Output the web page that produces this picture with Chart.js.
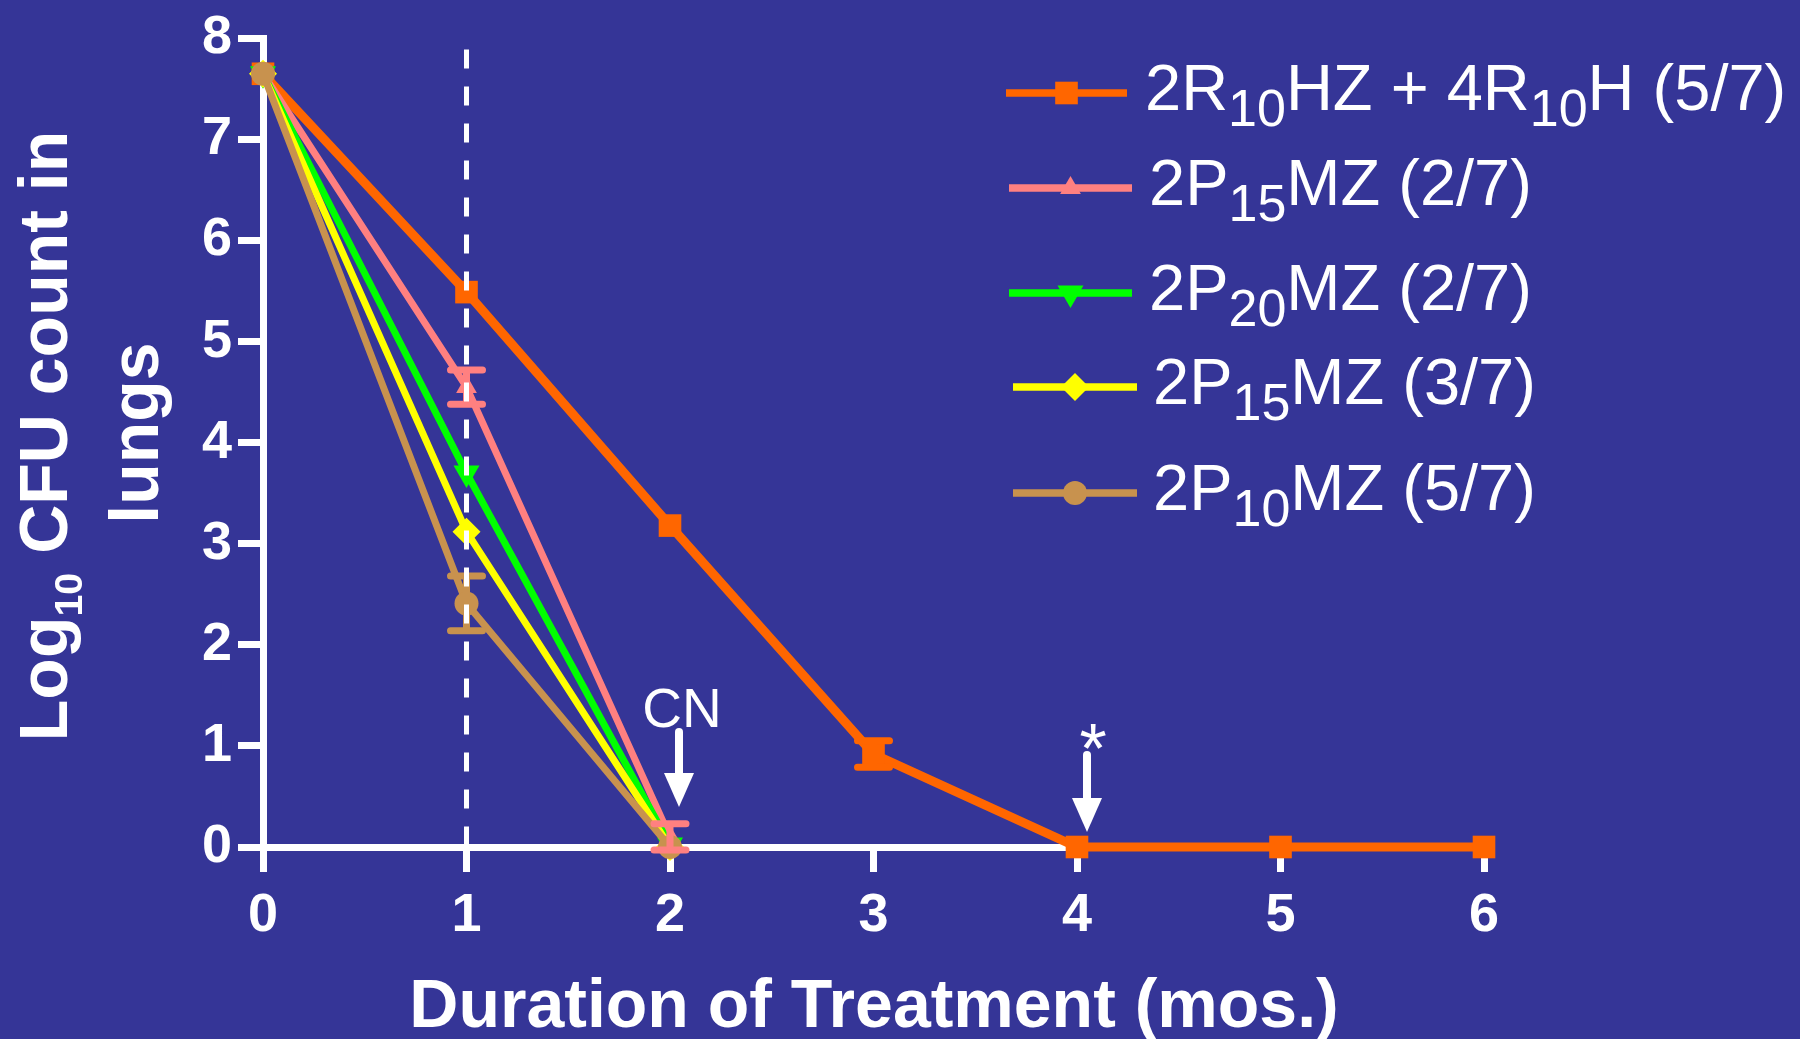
<!DOCTYPE html>
<html>
<head>
<meta charset="utf-8">
<script src="https://cdn.jsdelivr.net/npm/chart.js@4.4.1/dist/chart.umd.min.js"></script>
<style>
  html, body { margin: 0; padding: 0; background: #353597; }
  canvas { display: block; }
</style>
</head>
<body>
<canvas id="cfuChart" width="1800" height="1039"></canvas>
<script>
// months of treatment and log10 CFU ticks
let months = [0, 1, 2, 3, 4, 5, 6];
let yTicks = [0, 1, 2, 3, 4, 5, 6, 7, 8];

// regimen means (log10 CFU) and SD where visible
let rhzValues  = [7.65, 5.49, 3.18, 0.92, 0, 0, 0];
let rhzErr     = [0, 0, 0, 0.13, 0, 0, 0];
let p15aValues = [7.65, 4.55, 0.10];
let p15aErr    = [0, 0.17, 0.13];
let p20Values  = [7.65, 3.70, 0.02];
let p15bValues = [7.65, 3.12, 0];
let p10Values  = [7.65, 2.41, 0];
let p10Err     = [0, 0.27, 0];

let seriesLabels = [
  '2R_{10}HZ + 4R_{10}H (5/7)',
  '2P_{15}MZ (2/7)',
  '2P_{20}MZ (2/7)',
  '2P_{15}MZ (3/7)',
  '2P_{10}MZ (5/7)'
];
let seriesColors = ['#FF6600', '#FF8080', '#00FF00', '#FFFF00', '#C8924E'];

const FONT = '"Liberation Sans", Arial, Helvetica, sans-serif';
const WHITE = '#FFFFFF';

function series(i, values, style, radius, width, rotation) {
  return {
    label: seriesLabels[i],
    data: values.map((v, k) => ({ x: months[k], y: v })),
    borderColor: seriesColors[i],
    backgroundColor: seriesColors[i],
    pointBackgroundColor: seriesColors[i],
    pointBorderColor: seriesColors[i],
    pointBorderWidth: 0,
    pointStyle: style,
    pointRadius: radius,
    pointHoverRadius: radius,
    pointRotation: rotation || 0,
    borderWidth: width,
    tension: 0,
    clip: false,
    order: 4 - i
  };
}

// text with _{...} subscripts
function drawRich(ctx, text, x, y, size, weight, subScale, subDrop, align) {
  let segs = text.split(/(_\{[^}]*\})/).filter(s => s.length).map(p => {
    let sub = p.startsWith('_{');
    let t = sub ? p.slice(2, -1) : p;
    let fs = sub ? size * subScale : size;
    ctx.font = weight + ' ' + fs + 'px ' + FONT;
    return { t, sub, fs, w: ctx.measureText(t).width };
  });
  let total = segs.reduce((a, s) => a + s.w, 0);
  let cx = align === 'center' ? x - total / 2 : x;
  ctx.textAlign = 'left';
  ctx.textBaseline = 'alphabetic';
  segs.forEach(s => {
    ctx.font = weight + ' ' + s.fs + 'px ' + FONT;
    ctx.fillText(s.t, cx, y + (s.sub ? subDrop : 0));
    cx += s.w;
  });
}

function drawArrow(ctx, x, y0, y1) {
  ctx.save();
  ctx.strokeStyle = WHITE;
  ctx.fillStyle = WHITE;
  ctx.lineWidth = 8;
  ctx.lineCap = 'round';
  ctx.beginPath();
  ctx.moveTo(x, y0);
  ctx.lineTo(x, y1 - 30);
  ctx.stroke();
  ctx.beginPath();
  ctx.moveTo(x - 15, y1 - 34);
  ctx.lineTo(x + 15, y1 - 34);
  ctx.lineTo(x, y1);
  ctx.closePath();
  ctx.fill();
  ctx.restore();
}

const overlays = {
  id: 'overlays',
  afterDatasetsDraw(chart) {
    const ctx = chart.ctx;
    const xs = chart.scales.x, ys = chart.scales.y;

    // error bars
    [[rhzValues, rhzErr, 0], [p15aValues, p15aErr, 1], [p10Values, p10Err, 4]].forEach(([vals, errs, ci]) => {
      ctx.save();
      ctx.strokeStyle = seriesColors[ci];
      ctx.lineWidth = 7;
      ctx.lineCap = 'round';
      vals.forEach((v, k) => {
        if (!errs[k]) return;
        const px = xs.getPixelForValue(months[k]);
        const top = ys.getPixelForValue(v + errs[k]);
        const bot = ys.getPixelForValue(v - errs[k]);
        ctx.beginPath();
        ctx.moveTo(px, top); ctx.lineTo(px, bot);
        ctx.moveTo(px - 16, top); ctx.lineTo(px + 16, top);
        ctx.moveTo(px - 16, bot); ctx.lineTo(px + 16, bot);
        ctx.stroke();
      });
      ctx.restore();
    });

    // dashed line at one month
    const x1 = xs.getPixelForValue(1);
    ctx.save();
    ctx.strokeStyle = WHITE;
    ctx.lineWidth = 5;
    ctx.setLineDash([19, 18]);
    ctx.beginPath();
    ctx.moveTo(x1, chart.chartArea.top + 11);
    ctx.lineTo(x1, chart.chartArea.bottom);
    ctx.stroke();
    ctx.restore();

    // CN and * markers
    const x2 = xs.getPixelForValue(2) + 9;
    const x4 = xs.getPixelForValue(4) + 10;
    drawArrow(ctx, x2, 732, 807);
    drawArrow(ctx, x4, 755, 832);
    ctx.save();
    ctx.fillStyle = WHITE;
    ctx.textAlign = 'center';
    ctx.textBaseline = 'alphabetic';
    ctx.font = '55px ' + FONT;
    ctx.fillText('CN', x2 + 3, 727);
    ctx.font = '70px ' + FONT;
    ctx.fillText('*', x4 + 6, 773);
    ctx.restore();
  },
  afterDraw(chart) {
    const ctx = chart.ctx;
    ctx.save();
    ctx.fillStyle = WHITE;

    // x axis title
    drawRich(ctx, 'Duration of Treatment (mos.)', 874, 1027, 68, 'bold', 1, 0, 'center');

    // y axis title, two rotated lines
    ctx.save();
    ctx.translate(67, 436);
    ctx.rotate(-Math.PI / 2);
    drawRich(ctx, 'Log_{10} CFU count in', 0, 0, 68, 'bold', 0.58, 15, 'center');
    ctx.restore();
    ctx.save();
    ctx.translate(158, 433);
    ctx.rotate(-Math.PI / 2);
    drawRich(ctx, 'lungs', 0, 0, 68, 'bold', 1, 0, 'center');
    ctx.restore();

    // legend
    const rows = [
      { y: 93,  x0: 1006, x1: 1127, tx: 1145 },
      { y: 188, x0: 1009, x1: 1132, tx: 1149 },
      { y: 293, x0: 1009, x1: 1132, tx: 1149 },
      { y: 387, x0: 1013, x1: 1137, tx: 1153 },
      { y: 493, x0: 1013, x1: 1137, tx: 1153 }
    ];
    chart.data.datasets.forEach((ds, i) => {
      const r = rows[i];
      ctx.save();
      ctx.strokeStyle = ds.borderColor;
      ctx.lineWidth = 7.5;
      ctx.beginPath();
      ctx.moveTo(r.x0, r.y);
      ctx.lineTo(r.x1, r.y);
      ctx.stroke();
      ctx.fillStyle = ds.pointBackgroundColor;
      ctx.strokeStyle = ds.pointBorderColor;
      Chart.helpers.drawPoint(ctx, {
        pointStyle: ds.pointStyle,
        rotation: ds.pointRotation,
        radius: ds.pointRadius,
        borderWidth: 0
      }, (r.x0 + r.x1) / 2, r.y);
      ctx.restore();
      ctx.fillStyle = WHITE;
      drawRich(ctx, ds.label, r.tx, r.y + 17, 65, 'normal', 0.8, 16, 'left');
    });
    ctx.restore();
  }
};

const bg = {
  id: 'bg',
  beforeDraw(chart) {
    const ctx = chart.ctx;
    ctx.save();
    ctx.fillStyle = '#353597';
    ctx.fillRect(0, 0, chart.width, chart.height);
    ctx.restore();
  }
};

const tickFont = { family: FONT, size: 54, weight: 'bold' };

new Chart(document.getElementById('cfuChart').getContext('2d'), {
  type: 'line',
  data: {
    datasets: [
      series(0, rhzValues, 'rect', 16, 9),
      series(1, p15aValues, 'triangle', 12, 7),
      series(2, p20Values, 'triangle', 15, 7, 180),
      series(3, p15bValues, 'rectRot', 14, 7),
      series(4, p10Values, 'circle', 12, 7)
    ]
  },
  options: {
    responsive: false,
    animation: false,
    events: [],
    layout: { padding: { top: 34, right: 316, left: 0, bottom: 0 } },
    plugins: {
      legend: { display: false },
      tooltip: { enabled: false },
      title: { display: false }
    },
    scales: {
      x: {
        type: 'linear',
        min: 0,
        max: 6,
        z: 1,
        afterFit: s => { s.height = 192; },
        afterBuildTicks: s => { s.ticks = months.map(v => ({ value: v })); },
        ticks: { color: WHITE, font: tickFont, padding: 12 },
        grid: { drawOnChartArea: false, drawTicks: true, tickLength: 25, lineWidth: 7, color: WHITE },
        border: { color: WHITE, width: 7 }
      },
      y: {
        min: 0,
        max: 8,
        z: 1,
        afterFit: s => { s.width = 263; },
        afterBuildTicks: s => { s.ticks = yTicks.map(v => ({ value: v })); },
        ticks: { color: WHITE, font: tickFont, padding: 6 },
        grid: { drawOnChartArea: false, drawTicks: true, tickLength: 25, lineWidth: 7, color: WHITE },
        border: { color: WHITE, width: 7 }
      }
    }
  },
  plugins: [bg, overlays]
});
</script>
</body>
</html>
